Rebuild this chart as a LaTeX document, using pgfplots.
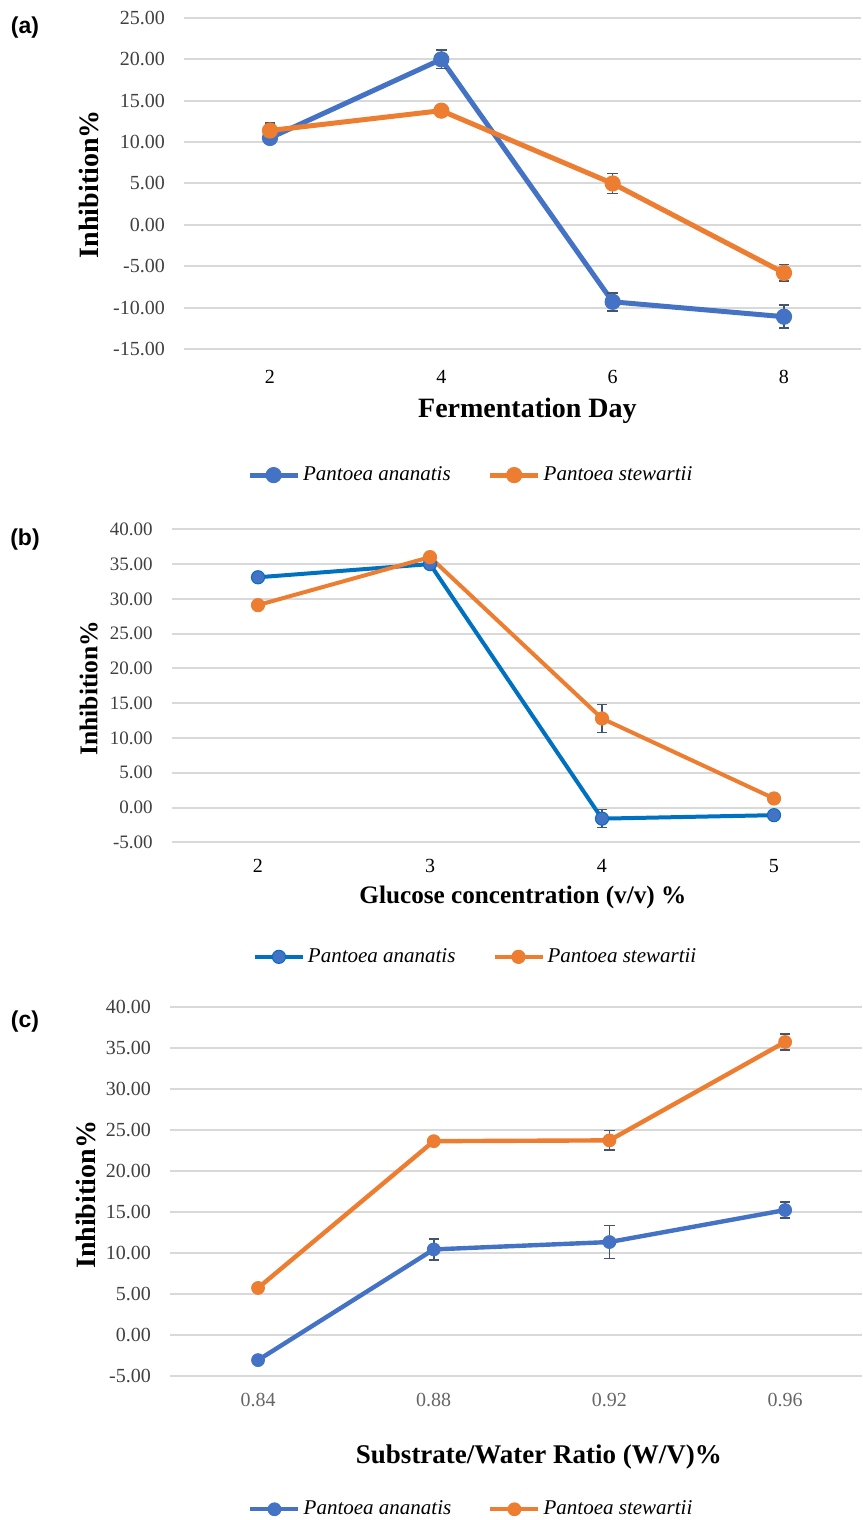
\documentclass[border=0pt]{standalone}
\usepackage{fontspec}
\setmainfont{Liberation Serif}
\newfontfamily\arialfont{Liberation Sans}
\usepackage{pgfplots}
\pgfplotsset{compat=1.18}
\definecolor{cblue}{HTML}{4472C4}
\definecolor{cblueb}{HTML}{0070C0}
\definecolor{corange}{HTML}{ED7D31}
\definecolor{cgrid}{HTML}{D9D9D9}
\definecolor{cerr}{HTML}{44546A}
\definecolor{ctick}{HTML}{404040}
\pgfplotsset{
  panel/.style={
    scale only axis,
    axis line style={draw=none},
    major tick length=0pt,
    ymajorgrids,
    grid style={cgrid, line width=1pt},
    /pgf/number format/assume math mode=true,
    /pgf/number format/fixed,
    /pgf/number format/fixed zerofill,
    /pgf/number format/precision=2,
    yticklabel style={font=\fontsize{10}{12}\selectfont, text=ctick, anchor=east, inner sep=0pt, xshift=-9.5pt},
    xticklabel style={font=\fontsize{10}{12}\selectfont, anchor=north, inner sep=0pt},
    clip=false,
    legend cell align=left,
    legend image code/.code={\draw[mark repeat=2,mark phase=2] plot coordinates {(0pt,0pt) (12pt,0pt) (24pt,0pt)};},
    legend style={draw=none, fill=none, legend columns=2,
      font=\itshape\fontsize{10.5}{12}\selectfont,
      nodes={inner xsep=1.5pt},
      /tikz/every even column/.append style={column sep=17pt}},
  },
  errs/.style={error bars/.cd, y dir=both, y explicit,
    error bar style={cerr, line width=0.8pt},
    error mark options={rotate=90, cerr, mark size=2.6pt, line width=0.8pt}},
}
\begin{document}
\begin{tikzpicture}
\path[use as bounding box] (0pt,0pt) rectangle (431pt,760pt);

% ---------------- (a)
\node[font=\arialfont\bfseries\fontsize{11.5}{13}\selectfont] at (12.5pt,746pt) {(a)};
\begin{axis}[panel,
  at={(92.15pt,585.5pt)}, anchor=south west,
  width=338.4pt, height=165.5pt,
  xmin=1, xmax=8.9, ymin=-15, ymax=25,
  ytick={-15,-10,...,25},
  xtick={2,4,6,8}, xticklabels={2,4,6,8},
  xticklabel style={yshift=-10.5pt},
  xlabel={Fermentation Day},
  xlabel style={at={(rel axis cs:0.507,-0.187)}, anchor=center, font=\bfseries\fontsize{14}{16}\selectfont},
  ylabel={Inhibition\%},
  ylabel style={at={(rel axis cs:-0.141,0.498)}, anchor=center, rotate=0, font=\bfseries\fontsize{14}{16}\selectfont},
  legend style={at={(rel axis cs:0.424,-0.381)}, anchor=center},
]
\addplot[cblue, line width=2.5pt, mark=*, mark size=3.8pt, mark options={fill=cblue, draw=cblue, line width=0.5pt}, errs]
  coordinates {(2,10.5) +- (0,0.4) (4,20.0) +- (0,1.1) (6,-9.3) +- (0,1.1) (8,-11.1) +- (0,1.4)};
\addlegendentry{Pantoea ananatis}
\addplot[corange, line width=2.5pt, mark=*, mark size=3.8pt, mark options={fill=corange, draw=corange, line width=0.5pt}, errs]
  coordinates {(2,11.4) +- (0,0.9) (4,13.8) +- (0,0.3) (6,5.0) +- (0,1.2) (8,-5.8) +- (0,1.0)};
\addlegendentry{Pantoea stewartii}
\end{axis}

% ---------------- (b)
\node[font=\arialfont\bfseries\fontsize{11.5}{13}\selectfont] at (12.5pt,490pt) {(b)};
\begin{axis}[panel,
  at={(86pt,338.85pt)}, anchor=south west,
  width=344pt, height=156.5pt,
  xmin=1.5, xmax=5.5, ymin=-5, ymax=40,
  ytick={-5,0,...,40},
  yticklabel style={font=\fontsize{9.5}{11}\selectfont},
  xtick={2,3,4,5}, xticklabels={2,3,4,5},
  xticklabel style={yshift=-8.5pt},
  xlabel={Glucose concentration (v/v) \%},
  xlabel style={at={(rel axis cs:0.510,-0.175)}, anchor=center, font=\bfseries\fontsize{12.6}{15}\selectfont},
  ylabel={Inhibition\%},
  ylabel style={at={(rel axis cs:-0.121,0.493)}, anchor=center, rotate=0, font=\bfseries\fontsize{12.8}{15}\selectfont},
  legend style={at={(rel axis cs:0.442,-0.366)}, anchor=center},
]
\addplot[cblueb, line width=2pt, mark=*, mark size=3.3pt, mark options={fill=cblue, draw=cblueb, line width=0.5pt}, errs]
  coordinates {(2,33.1) +- (0,0.3) (3,35.0) +- (0,0.3) (4,-1.6) +- (0,1.3) (5,-1.1) +- (0,0.3)};
\addlegendentry{Pantoea ananatis}
\addplot[corange, line width=2pt, mark=*, mark size=3.3pt, mark options={fill=corange, draw=corange, line width=0.5pt}, errs]
  coordinates {(2,29.1) +- (0,0.3) (3,36.0) +- (0,0.4) (4,12.8) +- (0,2.0) (5,1.3) +- (0,0.6)};
\addlegendentry{Pantoea stewartii}
\end{axis}

% ---------------- (c)
\node[font=\arialfont\bfseries\fontsize{11.5}{13}\selectfont] at (12.5pt,249pt) {(c)};
\begin{axis}[panel,
  at={(85.1pt,72.15pt)}, anchor=south west,
  width=345.9pt, height=184.5pt,
  xmin=0.82, xmax=0.9775, ymin=-5, ymax=40,
  ytick={-5,0,...,40},
  xtick={0.84,0.88,0.92,0.96}, xticklabels={0.84,0.88,0.92,0.96},
  xticklabel style={yshift=-8.5pt, text=ctick!80},
  xlabel={Substrate/Water Ratio (W/V)\%},
  xlabel style={at={(rel axis cs:0.533,-0.220)}, anchor=center, font=\bfseries\fontsize{13.5}{16}\selectfont},
  ylabel={Inhibition\%},
  ylabel style={at={(rel axis cs:-0.122,0.490)}, anchor=center, rotate=0, font=\bfseries\fontsize{14}{16}\selectfont},
  legend style={at={(rel axis cs:0.436,-0.362)}, anchor=center},
]
\addplot[cblue, line width=2.2pt, mark=*, mark size=3.2pt, mark options={fill=cblue, draw=cblue, line width=0.5pt}, errs]
  coordinates {(0.84,-3.1) +- (0,0.3) (0.88,10.4) +- (0,1.3) (0.92,11.3) +- (0,2.0) (0.96,15.2) +- (0,1.0)};
\addlegendentry{Pantoea ananatis}
\addplot[corange, line width=2.2pt, mark=*, mark size=3.2pt, mark options={fill=corange, draw=corange, line width=0.5pt}, errs]
  coordinates {(0.84,5.7) +- (0,0.4) (0.88,23.6) +- (0,0.4) (0.92,23.7) +- (0,1.2) (0.96,35.7) +- (0,1.0)};
\addlegendentry{Pantoea stewartii}
\end{axis}
\end{tikzpicture}
\end{document}
